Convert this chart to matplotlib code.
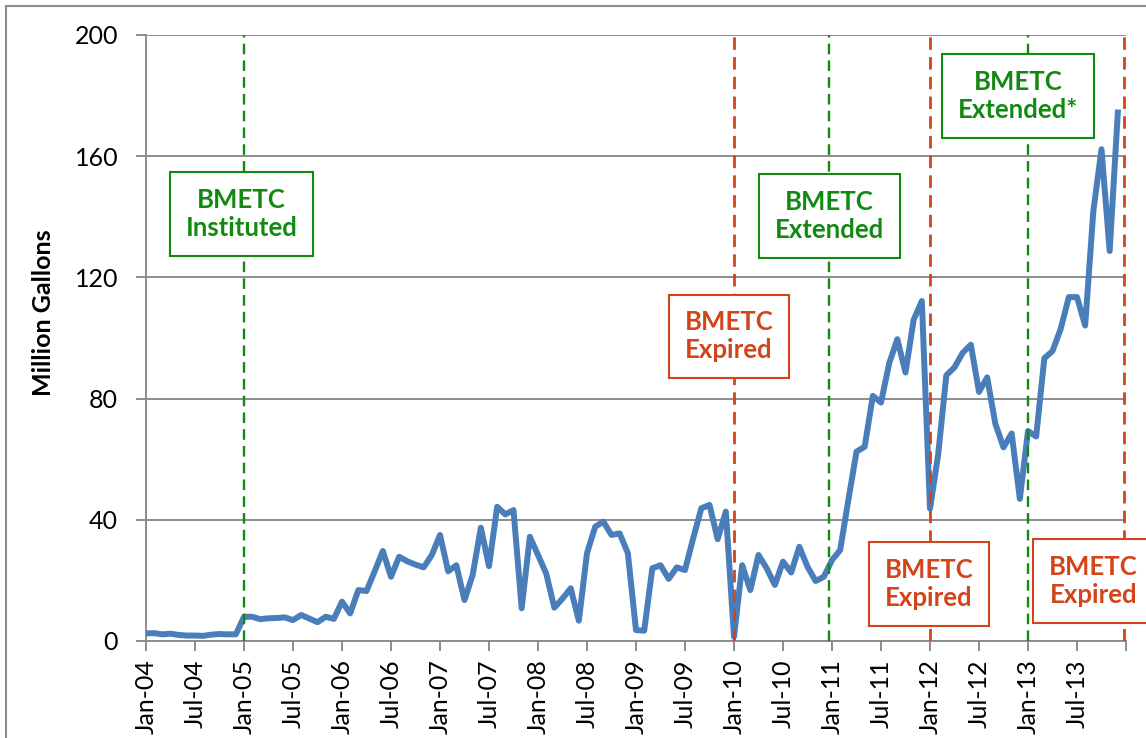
import matplotlib
matplotlib.use("Agg")
import matplotlib.pyplot as plt
from matplotlib.patches import Rectangle

# monthly volume, Jan-04 .. Dec-13 (million gallons)
gallons = [
    2.5, 2.6, 2.2, 2.4, 2.0, 1.8, 1.8, 1.7, 2.1, 2.3, 2.2, 2.2,            # 2004
    8.0, 8.0, 7.2, 7.5, 7.6, 7.8, 6.9, 8.6, 7.4, 6.2, 8.0, 7.3,            # 2005
    13.0, 9.1, 16.8, 16.5, 23.0, 29.7, 21.2, 27.8, 26.3, 25.2, 24.3, 28.4,  # 2006
    35.0, 23.0, 25.0, 13.5, 21.8, 37.4, 24.7, 44.3, 41.8, 43.2, 10.8, 34.4, # 2007
    28.4, 22.3, 11.0, 14.0, 17.4, 6.7, 29.0, 37.7, 39.4, 35.0, 35.5, 29.0,  # 2008
    3.6, 3.4, 24.0, 25.0, 20.5, 24.3, 23.4, 33.9, 43.8, 44.9, 33.6, 42.7,   # 2009
    1.4, 25.0, 16.8, 28.4, 24.0, 18.5, 26.2, 22.6, 31.1, 24.5, 19.8, 21.2,  # 2010
    26.7, 30.0, 46.5, 62.5, 64.1, 80.9, 78.7, 91.6, 99.6, 88.6, 106.0, 112.2,  # 2011
    43.7, 61.5, 87.7, 90.3, 95.1, 97.8, 82.2, 87.0, 71.7, 63.9, 68.5, 46.9,    # 2012
    69.3, 67.5, 93.3, 95.7, 103.0, 113.5, 113.5, 104.1, 141.9, 162.3, 128.7, 174.4,  # 2013
]
tick_labels = ["Jan-04", "Jul-04", "Jan-05", "Jul-05", "Jan-06", "Jul-06",
               "Jan-07", "Jul-07", "Jan-08", "Jul-08", "Jan-09", "Jul-09",
               "Jan-10", "Jul-10", "Jan-11", "Jul-11", "Jan-12", "Jul-12",
               "Jan-13", "Jul-13"]

# policy events: month index, status, label
event_pos = [12, 72, 83.6, 96, 108, 119.8]
event_kind = ["on", "off", "on", "off", "on", "off"]
event_text = ["BMETC\nInstituted", "BMETC\nExpired", "BMETC\nExtended",
              "BMETC\nExpired", "BMETC\nExtended*", "BMETC\nExpired"]
# where each label box sits (x in months, y in million gallons)
box_xy = [(11.7, 141), (71.4, 100.5), (83.7, 140.4),
          (95.9, 18.8), (106.8, 180), (116.0, 19.8)]

GREEN = "#128A12"
RED = "#D2441A"
BLUE = "#4A7EBB"
GRAY = "#8C8C8C"
FONT = ["Lato", "DejaVu Sans"]

plt.rcParams["font.family"] = FONT

fig = plt.figure(figsize=(11.46, 7.38), dpi=100)
ax = fig.add_axes([146 / 1146, 1 - 641 / 738, 980 / 1146, 606 / 738])

# outer chart border
fig.patches.append(Rectangle((6 / 1146, -0.05), 1.1, 0.05 + 1 - 6 / 738,
                             transform=fig.transFigure, fill=False,
                             edgecolor=GRAY, lw=1.5))

months = list(range(len(gallons)))
ax.plot(months, gallons, color=BLUE, lw=4.3, solid_joinstyle="round",
        zorder=3)

for x, kind in zip(event_pos, event_kind):
    c = GREEN if kind == "on" else RED
    ax.axvline(x, color=c, lw=1.7 if kind == "on" else 2.0,
               ls=(0, (4.5, 2.6)), zorder=4)

for (bx, by), txt, kind in zip(box_xy, event_text, event_kind):
    c = GREEN if kind == "on" else RED
    ax.text(bx, by, txt, ha="center", va="center", fontsize=18.5,
            fontweight="bold", color=c, linespacing=1.2, zorder=6,
            clip_on=False,
            bbox=dict(boxstyle="square,pad=0.62", fc="white", ec=c, lw=1.5))

ax.set_xlim(0, 120)
ax.set_ylim(0, 200)
ax.set_yticks(range(0, 201, 40))
ax.set_xticks(range(0, 121, 6))
ax.set_xticklabels(tick_labels + [""], rotation=90)
ax.yaxis.grid(True, color=GRAY, lw=1.4)
ax.set_axisbelow(True)

for s in ["top", "right"]:
    ax.spines[s].set_visible(False)
for s in ["left", "bottom"]:
    ax.spines[s].set_color(GRAY)
    ax.spines[s].set_linewidth(1.4)

ax.tick_params(axis="y", length=7, width=1.4, color=GRAY, pad=13,
               labelsize=18)
ax.tick_params(axis="x", length=7, width=1.4, color=GRAY, pad=6,
               labelsize=18)

ax.set_ylabel("Million Gallons", fontsize=18, fontweight="bold",
              labelpad=0)
ax.yaxis.set_label_coords(-91 / 980, 0.541)

fig.savefig("out.png", dpi=100)
